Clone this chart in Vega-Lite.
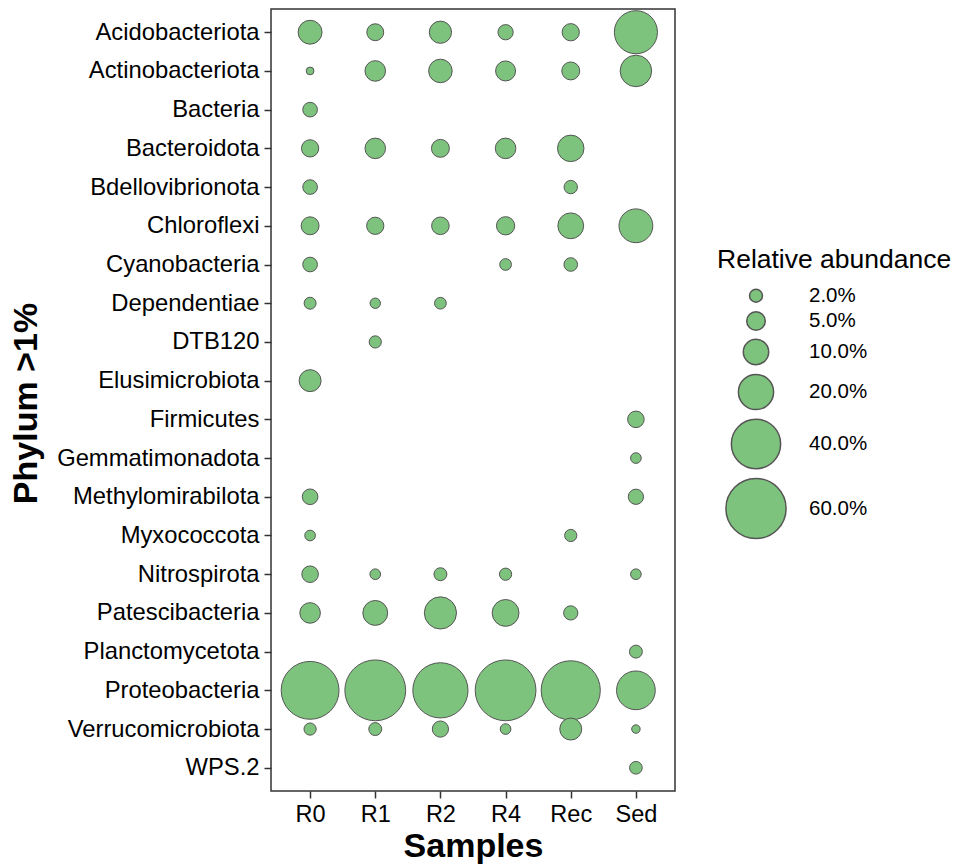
{
  "$schema": "https://vega.github.io/schema/vega-lite/v6.json",
  "autosize": "none",
  "width": 404,
  "height": 782,
  "padding": {"left": 271, "top": 9, "right": 282, "bottom": 75},
  "background": "white",
  "data": {
    "values": [
      {"phylum": "Acidobacteriota", "sample": "R0", "value": 8.8},
      {"phylum": "Acidobacteriota", "sample": "R1", "value": 4.0},
      {"phylum": "Acidobacteriota", "sample": "R2", "value": 7.5},
      {"phylum": "Acidobacteriota", "sample": "R4", "value": 3.1},
      {"phylum": "Acidobacteriota", "sample": "Rec", "value": 4.2},
      {"phylum": "Acidobacteriota", "sample": "Sed", "value": 30.4},
      {"phylum": "Actinobacteriota", "sample": "R0", "value": 0.2},
      {"phylum": "Actinobacteriota", "sample": "R1", "value": 6.3},
      {"phylum": "Actinobacteriota", "sample": "R2", "value": 8.5},
      {"phylum": "Actinobacteriota", "sample": "R4", "value": 5.9},
      {"phylum": "Actinobacteriota", "sample": "Rec", "value": 4.6},
      {"phylum": "Actinobacteriota", "sample": "Sed", "value": 15.9},
      {"phylum": "Bacteria", "sample": "R0", "value": 2.8},
      {"phylum": "Bacteroidota", "sample": "R0", "value": 4.2},
      {"phylum": "Bacteroidota", "sample": "R1", "value": 6.3},
      {"phylum": "Bacteroidota", "sample": "R2", "value": 4.6},
      {"phylum": "Bacteroidota", "sample": "R4", "value": 6.3},
      {"phylum": "Bacteroidota", "sample": "Rec", "value": 11.0},
      {"phylum": "Bdellovibrionota", "sample": "R0", "value": 2.8},
      {"phylum": "Bdellovibrionota", "sample": "Rec", "value": 2.2},
      {"phylum": "Chloroflexi", "sample": "R0", "value": 4.6},
      {"phylum": "Chloroflexi", "sample": "R1", "value": 4.2},
      {"phylum": "Chloroflexi", "sample": "R2", "value": 4.4},
      {"phylum": "Chloroflexi", "sample": "R4", "value": 4.8},
      {"phylum": "Chloroflexi", "sample": "Rec", "value": 10.4},
      {"phylum": "Chloroflexi", "sample": "Sed", "value": 18.4},
      {"phylum": "Cyanobacteria", "sample": "R0", "value": 2.8},
      {"phylum": "Cyanobacteria", "sample": "R4", "value": 1.5},
      {"phylum": "Cyanobacteria", "sample": "Rec", "value": 2.3},
      {"phylum": "Dependentiae", "sample": "R0", "value": 1.6},
      {"phylum": "Dependentiae", "sample": "R1", "value": 1.0},
      {"phylum": "Dependentiae", "sample": "R2", "value": 1.5},
      {"phylum": "DTB120", "sample": "R1", "value": 1.7},
      {"phylum": "Elusimicrobiota", "sample": "R0", "value": 7.3},
      {"phylum": "Firmicutes", "sample": "Sed", "value": 3.8},
      {"phylum": "Gemmatimonadota", "sample": "Sed", "value": 1.1},
      {"phylum": "Methylomirabilota", "sample": "R0", "value": 3.3},
      {"phylum": "Methylomirabilota", "sample": "Sed", "value": 3.1},
      {"phylum": "Myxococcota", "sample": "R0", "value": 1.1},
      {"phylum": "Myxococcota", "sample": "Rec", "value": 1.7},
      {"phylum": "Nitrospirota", "sample": "R0", "value": 3.8},
      {"phylum": "Nitrospirota", "sample": "R1", "value": 1.1},
      {"phylum": "Nitrospirota", "sample": "R2", "value": 2.0},
      {"phylum": "Nitrospirota", "sample": "R4", "value": 1.7},
      {"phylum": "Nitrospirota", "sample": "Sed", "value": 1.1},
      {"phylum": "Patescibacteria", "sample": "R0", "value": 6.3},
      {"phylum": "Patescibacteria", "sample": "R1", "value": 9.6},
      {"phylum": "Patescibacteria", "sample": "R2", "value": 16.6},
      {"phylum": "Patescibacteria", "sample": "R4", "value": 11.3},
      {"phylum": "Patescibacteria", "sample": "Rec", "value": 2.6},
      {"phylum": "Planctomycetota", "sample": "Sed", "value": 2.0},
      {"phylum": "Proteobacteria", "sample": "R0", "value": 55.4},
      {"phylum": "Proteobacteria", "sample": "R1", "value": 61.3},
      {"phylum": "Proteobacteria", "sample": "R2", "value": 50.4},
      {"phylum": "Proteobacteria", "sample": "R4", "value": 61.3},
      {"phylum": "Proteobacteria", "sample": "Rec", "value": 58.0},
      {"phylum": "Proteobacteria", "sample": "Sed", "value": 24.4},
      {"phylum": "Verrucomicrobiota", "sample": "R0", "value": 1.7},
      {"phylum": "Verrucomicrobiota", "sample": "R1", "value": 2.0},
      {"phylum": "Verrucomicrobiota", "sample": "R2", "value": 3.6},
      {"phylum": "Verrucomicrobiota", "sample": "R4", "value": 1.1},
      {"phylum": "Verrucomicrobiota", "sample": "Rec", "value": 7.3},
      {"phylum": "Verrucomicrobiota", "sample": "Sed", "value": 0.4},
      {"phylum": "WPS.2", "sample": "Sed", "value": 1.9}
    ]
  },
  "mark": {"type": "circle", "fill": "#7dc37d", "stroke": "#555555", "strokeWidth": 1, "opacity": 1},
  "encoding": {
    "x": {
      "field": "sample", "type": "nominal",
      "scale": {"type": "point", "padding": 0.6, "domain": ["R0", "R1", "R2", "R4", "Rec", "Sed"]},
      "axis": {
        "title": "Samples", "titleFont": "Liberation Sans", "titleFontSize": 34, "titleFontWeight": "bold", "titleColor": "#000000",
        "titleX": 202, "titleY": 65, "titleBaseline": "alphabetic", "titleAlign": "center",
        "labelFont": "Liberation Sans", "labelFontSize": 23.5, "labelColor": "#000000", "labelAngle": 0, "labelPadding": 4,
        "domain": false, "ticks": true, "tickSize": 7, "tickColor": "#333333", "tickWidth": 1.5, "grid": false
      }
    },
    "y": {
      "field": "phylum", "type": "nominal",
      "scale": {"type": "point", "padding": 0.6, "domain": ["Acidobacteriota", "Actinobacteriota", "Bacteria", "Bacteroidota", "Bdellovibrionota", "Chloroflexi", "Cyanobacteria", "Dependentiae", "DTB120", "Elusimicrobiota", "Firmicutes", "Gemmatimonadota", "Methylomirabilota", "Myxococcota", "Nitrospirota", "Patescibacteria", "Planctomycetota", "Proteobacteria", "Verrucomicrobiota", "WPS.2"]},
      "axis": {
        "title": "Phylum >1%", "titleFont": "Liberation Sans", "titleFontSize": 34, "titleFontWeight": "bold", "titleColor": "#000000",
        "titleAngle": 270, "titleX": -235, "titleY": 394, "titleBaseline": "alphabetic", "titleAlign": "center",
        "labelFont": "Liberation Sans", "labelFontSize": 23.8, "labelColor": "#000000", "labelPadding": 5, "labelLimit": 0,
        "domain": false, "ticks": true, "tickSize": 7, "tickColor": "#333333", "tickWidth": 1.5, "grid": false
      }
    },
    "size": {
      "field": "value", "type": "quantitative",
      "scale": {"type": "linear", "domain": [0, 60], "range": [48, 3620]},
      "legend": {
        "title": "Relative abundance",
        "values": [2, 5, 10, 20, 40, 60],
        "labelExpr": "format(datum.value, '.1f') + '%'",
        "orient": "none", "legendX": 446, "legendY": 238,
        "padding": 0,
        "titleFont": "Liberation Sans", "titleFontSize": 26.5, "titleFontWeight": "normal", "titleColor": "#000000", "titlePadding": 12, "titleLimit": 0,
        "labelFont": "Liberation Sans", "labelFontSize": 20.5, "labelColor": "#000000", "labelOffset": 22, "labelLimit": 0,
        "symbolType": "circle", "symbolOffset": 8, "rowPadding": 2,
        "encode": {
          "symbols": {
            "enter": {
              "stroke": {"value": "#555555"},
              "strokeWidth": {"value": 1},
              "strokeOpacity": {"value": 1},
              "fill": {"value": "#7dc37d"},
              "fillOpacity": {"value": 1},
              "opacity": {"value": 1}
            },
            "update": {
              "stroke": {"value": "#555555"},
              "strokeWidth": {"value": 1},
              "strokeOpacity": {"value": 1},
              "fill": {"value": "#7dc37d"},
              "fillOpacity": {"value": 1},
              "opacity": {"value": 1}
            }
          }
        }
      }
    }
  },
  "config": {
    "view": {"stroke": "#333333", "strokeWidth": 1.5},
    "font": "Liberation Sans"
  }
}
